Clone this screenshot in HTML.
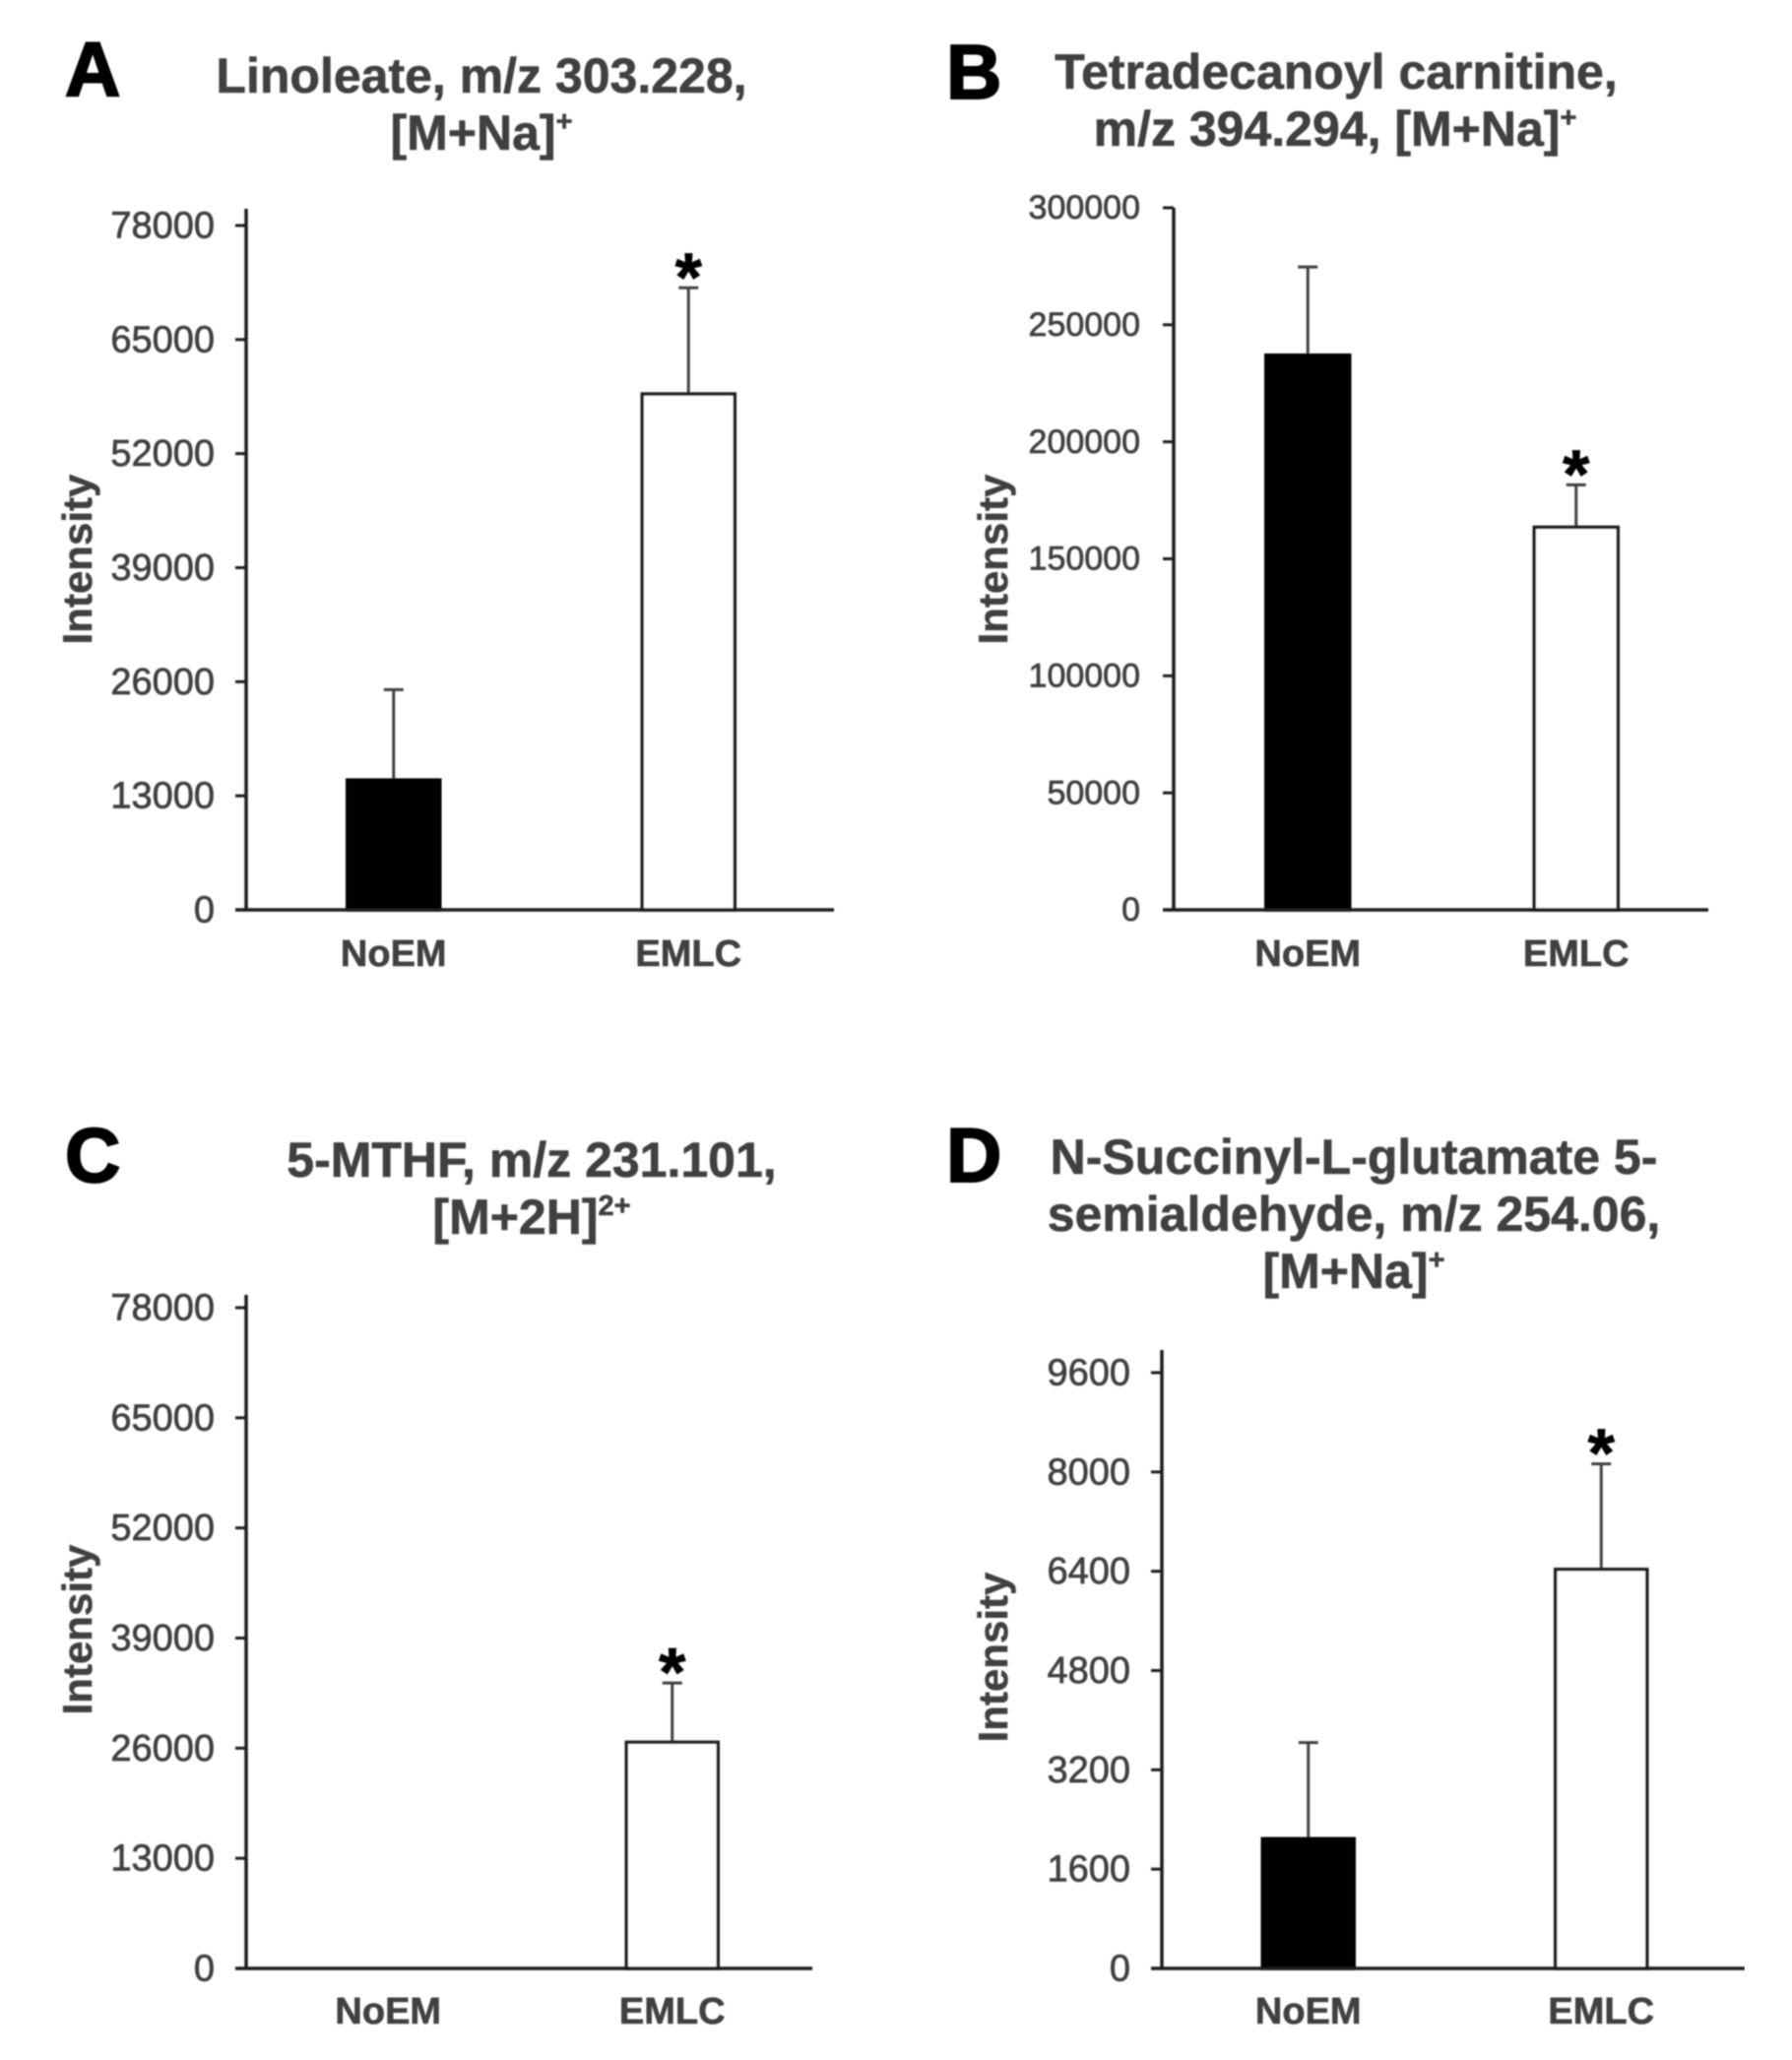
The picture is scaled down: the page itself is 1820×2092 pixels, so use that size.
<!DOCTYPE html>
<html lang="en">
<head>
<meta charset="utf-8">
<title>Metabolite intensity bar charts</title>
<style>
  html, body { margin: 0; padding: 0; background: #fff; }
  #figure { display: block; width: 1820px; height: 2092px; }
  text { font-family: "Liberation Sans", Arial, sans-serif; }
  .title { font-weight: 700; font-size: 50px; fill: #404040; text-anchor: middle; stroke: #404040; stroke-width: .6px; }
  .sup { font-size: 29px; }
  .letter { font-weight: 700; font-size: 78px; fill: #000; stroke: #000; stroke-width: 2px; }
  .tick-label { fill: #404040; text-anchor: end; stroke: #404040; stroke-width: .7px; }
  .cat-label { font-weight: 700; font-size: 38px; fill: #404040; text-anchor: middle; stroke: #404040; stroke-width: .6px; }
  .y-title { font-weight: 700; font-size: 42px; fill: #404040; text-anchor: middle; stroke: #404040; stroke-width: .5px; }
  .star { font-weight: 700; font-size: 70px; fill: #000; text-anchor: middle; stroke: #000; stroke-width: .8px; }
</style>
</head>
<body>
<svg id="figure" xmlns="http://www.w3.org/2000/svg" width="1820" height="2092" viewBox="0 0 1820 2092">
  <defs><filter id="soft" x="0" y="0" width="100%" height="100%"><feGaussianBlur stdDeviation="0.9"/></filter></defs>
  <rect width="1820" height="2092" fill="#fff"/>
  <g id="root" filter="url(#soft)">
    <text class="letter" x="66" y="97">A</text>
    <text class="title" x="489" y="94">Linoleate, m/z 303.228,</text>
    <text class="title" x="489" y="152">[M+Na]<tspan class="sup" dy="-19">+</tspan></text>

    <text class="letter" x="961" y="100">B</text>
    <text class="title" x="1357" y="90">Tetradecanoyl carnitine,</text>
    <text class="title" x="1356" y="148">m/z 394.294, [M+Na]<tspan class="sup" dy="-19">+</tspan></text>

    <text class="letter" x="66" y="1200">C</text>
    <text class="title" x="540" y="1195">5-MTHF, m/z 231.101,</text>
    <text class="title" x="540" y="1253">[M+2H]<tspan class="sup" dy="-19">2+</tspan></text>

    <text class="letter" x="961" y="1200">D</text>
    <text class="title" x="1375" y="1192">N-Succinyl-L-glutamate 5-</text>
    <text class="title" x="1375" y="1250">semialdehyde, m/z 254.06,</text>
    <text class="title" x="1375" y="1308">[M+Na]<tspan class="sup" dy="-19">+</tspan></text>
  </g>
</svg>
<script>
// ---- chart data ----
const categories = ['NoEM', 'EMLC'];

const ticksA = [0, 13000, 26000, 39000, 52000, 65000, 78000];
const meansA = [14800, 58800];
const upperA = [25100, 70900];

const ticksB = [0, 50000, 100000, 150000, 200000, 250000, 300000];
const meansB = [237000, 163500];
const upperB = [274700, 181600];

const ticksC = [0, 13000, 26000, 39000, 52000, 65000, 78000];
const meansC = [0, 26700];
const upperC = [null, 33700];

const ticksD = [0, 1600, 3200, 4800, 6400, 8000, 9600];
const meansD = [2090, 6430];
const upperD = [3640, 8130];

const significant = ['EMLC'];

// ---- layout of each panel (not data) ----
const panels = [
  { id: 'a', ticks: ticksA, means: meansA, upper: upperA, left: 250, right: 849, axisEnd: 847, zero: 924, top: 229, axisTop: 212, barW: 94, tickFont: 38, labelRight: 218, titleX: 79, titleY: 568, catY: 981 },
  { id: 'b', ticks: ticksB, means: meansB, upper: upperB, left: 1192, right: 1737, axisEnd: 1735, zero: 924, top: 211, axisTop: 211, barW: 85, tickFont: 34, labelRight: 1158, titleX: 1009, titleY: 568, catY: 981 },
  { id: 'c', ticks: ticksC, means: meansC, upper: upperC, left: 250, right: 827, axisEnd: 825, zero: 1999, top: 1328, axisTop: 1315, barW: 93, tickFont: 38, labelRight: 218, titleX: 79, titleY: 1655, catY: 2055 },
  { id: 'd', ticks: ticksD, means: meansD, upper: upperD, left: 1180, right: 1775, axisEnd: 1772, zero: 1999, top: 1394, axisTop: 1371, barW: 93, tickFont: 38, labelRight: 1148, titleX: 1009, titleY: 1683, catY: 2055 }
];

const SVG_NS = 'http://www.w3.org/2000/svg';
const root = document.getElementById('root');

function make(tag, attrs, text) {
  const el = document.createElementNS(SVG_NS, tag);
  for (const k in attrs) el.setAttribute(k, attrs[k]);
  if (text !== undefined) el.textContent = text;
  root.appendChild(el);
  return el;
}

function yScale(p) {
  const max = p.ticks[p.ticks.length - 1];
  return function (v) { return p.zero - (v / max) * (p.zero - p.top); };
}
function xScale(p) {
  const band = (p.right - p.left) / categories.length;
  return function (i) { return p.left + band * (i + 0.5); };
}

panels.forEach(function (p) {
  const y = yScale(p);
  const x = xScale(p);

  p.means.forEach(function (m, i) {
    if (m <= 0) return;
    const cx = x(i);
    if (p.upper[i] !== null) {
      const stem = make('line', { x1: cx, x2: cx, y1: y(p.upper[i]), y2: y(m), stroke: '#404040', 'stroke-width': 3 });
      
      
      const cap = make('line', { x1: cx - 10, x2: cx + 10, y1: y(p.upper[i]), y2: y(p.upper[i]), stroke: '#404040', 'stroke-width': 3 });
      
      
    }
    const filled = categories[i] === 'NoEM';
    const bar = make('rect', {
      x: cx - p.barW / 2, y: y(m), width: p.barW, height: p.zero - y(m),
      fill: filled ? '#000' : '#fff', stroke: filled ? '#000' : '#1f1f1f', 'stroke-width': 3.5
    });
    
    
    if (significant.indexOf(categories[i]) >= 0) {
      const star = make('text', { class: 'star', x: cx, y: y(p.upper[i]) + 13 }, '*');
      
      
    }
  });

  const yAxis = make('line', { x1: p.left, x2: p.left, y1: p.axisTop, y2: p.zero + 1.5, stroke: '#1f1f1f', 'stroke-width': 3.5 });
  
  
  const xAxis = make('line', { x1: p.left - 11, x2: p.axisEnd, y1: p.zero, y2: p.zero, stroke: '#1f1f1f', 'stroke-width': 3.5 });
  
  

  p.ticks.forEach(function (t) {
    const mark = make('line', { x1: p.left - 11, x2: p.left, y1: y(t), y2: y(t), stroke: '#1f1f1f', 'stroke-width': 3 });
    
    
    const label = make('text', { class: 'tick-label', x: p.labelRight, y: y(t) + p.tickFont * 0.33, 'font-size': p.tickFont }, String(t));
    
    
  });

  categories.forEach(function (c, i) {
    const label = make('text', { class: 'cat-label', x: x(i), y: p.catY }, c);
    
    
  });

  const yTitle = make('text', { class: 'y-title', x: p.titleX + 14, y: p.titleY, transform: 'rotate(-90 ' + (p.titleX + 14) + ' ' + p.titleY + ')' }, 'Intensity');
  
  
});
</script>
</body>
</html>
